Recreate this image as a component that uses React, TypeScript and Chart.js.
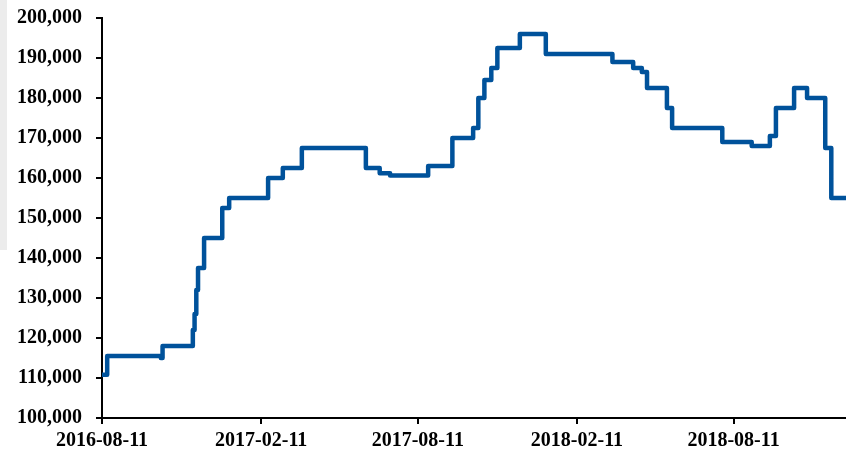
import React, { useEffect, useRef } from "react";
import { Chart, registerables } from "chart.js";

Chart.register(...registerables);

// Days since 2016-08-11 at which the value changes
const dayOffsets = [
  0, 6, 68, 70, 105, 107, 109, 111, 118, 139, 147, 192, 209, 231, 305, 321, 333,
  377, 405, 429, 435, 442, 450, 457, 483, 513, 590, 614, 624, 630, 653, 659, 717,
  751, 772, 779, 800, 815, 836, 843, 862,
];
const priceValues = [
  110800, 115500, 115000, 118000, 122000, 126000, 132000, 137500, 145000, 152500,
  155000, 160000, 162500, 167500, 162500, 161200, 160600, 163000, 170000, 172500,
  180000, 184500, 187500, 192500, 196000, 191000, 189000, 187500, 186500, 182500,
  177500, 172500, 169000, 168000, 170500, 177500, 182500, 180000, 167500, 155000,
  155000,
];
const tickDays = [0, 184, 365, 549, 730];
const tickLabels = ["2016-08-11", "2017-02-11", "2017-08-11", "2018-02-11", "2018-08-11"];
const yMin = 100000;
const yMax = 200000;
const yStep = 10000;

export default function App() {
  const ref = useRef<HTMLCanvasElement | null>(null);
  useEffect(() => {
    if (!ref.current) return;
    const font = { family: "'Liberation Serif', 'Times New Roman', serif", size: 20, weight: "bold" as const };
    const chart = new Chart(ref.current, {
      type: "line",
      data: {
        datasets: [
          {
            data: dayOffsets.map((d, i) => ({ x: d, y: priceValues[i] })),
            borderColor: "#00529B",
            borderWidth: 4.5,
            borderJoinStyle: "round",
            borderCapStyle: "round",
            pointRadius: 0,
            stepped: "before",
            fill: false,
          },
        ],
      },
      options: {
        animation: false,
        responsive: false,
        layout: { padding: { top: 18, left: 0, right: 0, bottom: 0 } },
        plugins: { legend: { display: false }, tooltip: { enabled: false } },
        scales: {
          x: {
            type: "linear",
            min: 0,
            max: 860,
            afterBuildTicks: (scale: any) => {
              scale.ticks = tickDays.map((v) => ({ value: v }));
            },
            afterFit: (scale: any) => {
              scale.height = 34;
              scale.paddingLeft = 0;
              scale.paddingRight = 0;
            },
            ticks: {
              autoSkip: false,
              maxRotation: 0,
              color: "#000",
              font,
              padding: 5,
              callback: (v: any) => {
                const i = tickDays.indexOf(Number(v));
                return i >= 0 ? tickLabels[i] : "";
              },
            },
            grid: { drawOnChartArea: false, drawTicks: true, tickLength: 6, color: "#000", lineWidth: 2 },
            border: { color: "#000", width: 2 },
          },
          y: {
            min: yMin,
            max: yMax,
            afterFit: (scale: any) => {
              scale.width = 102;
              scale.paddingTop = 0;
              scale.paddingBottom = 0;
            },
            ticks: {
              stepSize: yStep,
              color: "#000",
              font,
              padding: 14,
              callback: (v: any) => Number(v).toLocaleString("en-US"),
            },
            grid: { drawOnChartArea: false, drawTicks: true, tickLength: 6, color: "#000", lineWidth: 2 },
            border: { color: "#000", width: 2 },
          },
        },
      },
    });
    return () => chart.destroy();
  }, []);
  return (
    <div style={{ position: "fixed", left: 0, top: 0, width: 846, height: 452, background: "#fff" }}>
      <div style={{ position: "absolute", left: 0, top: 0, width: 7, height: 250, background: "#ececec" }} />
      <canvas ref={ref} width={846} height={452} style={{ position: "absolute", left: 0, top: 0 }} />
    </div>
  );
}
